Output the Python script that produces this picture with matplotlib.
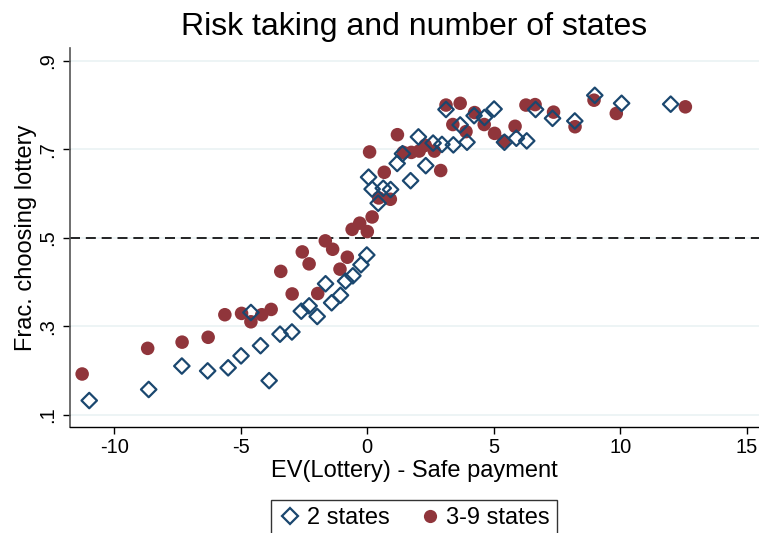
import numpy as np
import matplotlib
matplotlib.use('Agg')
import matplotlib.pyplot as plt
from matplotlib.lines import Line2D

plt.rcParams['font.family'] = ['Liberation Sans', 'DejaVu Sans']

# 2 states (hollow diamonds)
ev_2 = [-10.99, -8.64, -7.33, -6.31, -5.50, -4.99, -4.22, -3.88, -4.60, -3.45,
        -2.98, -2.61, -2.30, -1.98, -1.65, -1.41, -1.06, -0.86, -0.57, -0.25,
        -0.02, 0.05, 0.19, 0.43, 0.63, 0.92, 1.18, 1.39, 1.71, 2.02,
        2.31, 2.60, 2.95, 3.11, 3.40, 3.67, 3.94, 4.22, 4.63, 5.01,
        5.42, 5.89, 6.30, 6.65, 7.32, 8.20, 8.99, 10.05, 11.99]
frac_2 = [0.132, 0.157, 0.210, 0.199, 0.206, 0.233, 0.256, 0.177, 0.331, 0.282,
          0.287, 0.334, 0.346, 0.322, 0.396, 0.353, 0.370, 0.402, 0.414, 0.439,
          0.461, 0.637, 0.610, 0.578, 0.612, 0.609, 0.668, 0.690, 0.629, 0.728,
          0.663, 0.714, 0.711, 0.790, 0.710, 0.755, 0.716, 0.776, 0.772, 0.791,
          0.716, 0.725, 0.719, 0.790, 0.770, 0.764, 0.822, 0.804, 0.802]

# 3-9 states (filled circles)
ev_39 = [-11.27, -8.68, -7.32, -6.29, -5.63, -4.97, -4.60, -4.17, -3.80, -3.42,
         -2.97, -2.57, -2.30, -1.96, -1.66, -1.37, -1.08, -0.79, -0.60, -0.30,
         -0.00, 0.19, 0.09, 0.45, 0.67, 0.91, 1.19, 1.42, 1.74, 2.05,
         2.29, 2.65, 2.90, 3.11, 3.38, 3.67, 3.90, 4.24, 4.62, 5.03,
         5.39, 5.84, 6.27, 6.63, 7.36, 8.21, 8.96, 9.84, 12.57]
frac_39 = [0.192, 0.250, 0.264, 0.275, 0.326, 0.329, 0.310, 0.326, 0.338, 0.424,
           0.373, 0.468, 0.441, 0.374, 0.493, 0.474, 0.429, 0.456, 0.519, 0.533,
           0.514, 0.547, 0.694, 0.590, 0.648, 0.587, 0.733, 0.693, 0.693, 0.696,
           0.709, 0.696, 0.652, 0.800, 0.756, 0.804, 0.740, 0.783, 0.756, 0.736,
           0.718, 0.752, 0.800, 0.801, 0.784, 0.751, 0.811, 0.781, 0.796]

x_ticks = [-10, -5, 0, 5, 10, 15]
y_ticks = [0.1, 0.3, 0.5, 0.7, 0.9]
y_ticklabels = ['.1', '.3', '.5', '.7', '.9']

blue = '#1a476f'
red = '#90353b'

fig = plt.figure(figsize=(7.59, 5.33), dpi=100)
W, H = 759, 533
ax = fig.add_axes([70 / W, 1 - 427.3 / H, (W - 70) / W, (427.3 - 48) / H])

ax.set_xlim(-11.75, 15.48)
ax.set_ylim(0.0715, 0.929)

# light gridlines
for yt in y_ticks:
    ax.axhline(yt, color='#eaf2f3', lw=1.2, zorder=0)
ax.axhline(0.5, color='black', lw=1.2, ls=(0, (6, 3.5)), zorder=1)

ax.scatter(ev_2, frac_2, marker='D', s=62, facecolors='none',
           edgecolors=blue, linewidths=1.6, zorder=3)
ax.scatter(ev_39, frac_39, marker='o', s=95, color=red,
           edgecolors='none', zorder=2)

ax.spines['top'].set_visible(False)
ax.spines['right'].set_visible(False)
ax.spines['left'].set_color('#555555')
ax.spines['left'].set_linewidth(1.2)
ax.spines['bottom'].set_color('black')
ax.spines['bottom'].set_linewidth(1.0)

ax.set_xticks(x_ticks)
ax.set_xticklabels([str(t) for t in x_ticks])
ax.set_yticks(y_ticks)
ax.set_yticklabels(y_ticklabels, rotation=90, va='center')
ax.tick_params(axis='both', direction='out', length=5, width=1,
               labelsize=14.5, color='black')
ax.tick_params(axis='x', pad=3)
ax.tick_params(axis='y', pad=4)

ax.set_xlabel('EV(Lottery) - Safe payment', fontsize=17, labelpad=2)
ax.set_ylabel('Frac. choosing lottery', fontsize=17, labelpad=1)
fig.text(414 / W, 1 - 27 / H, 'Risk taking and number of states',
         fontsize=23, ha='center', va='center')

handles = [
    Line2D([], [], marker='D', ls='none', markersize=8, markerfacecolor='none',
           markeredgecolor=blue, markeredgewidth=1.6, label='2 states'),
    Line2D([], [], marker='o', ls='none', markersize=9.5, color=red,
           markeredgecolor='none', label='3-9 states'),
]
leg = fig.legend(handles=handles, loc='center', bbox_to_anchor=(414 / W, 1 - 518 / H),
                 ncol=2, fontsize=17, frameon=True, fancybox=False,
                 handletextpad=0.2, columnspacing=1.2, handlelength=1.0,
                 borderpad=0.3)
leg.get_frame().set_edgecolor('black')
leg.get_frame().set_linewidth(1.0)

fig.savefig('out.png', dpi=100)
